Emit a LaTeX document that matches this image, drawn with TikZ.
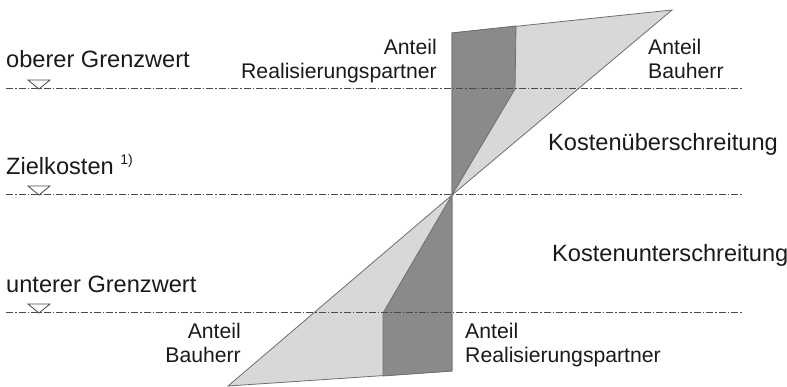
\documentclass[tikz,border=0pt]{standalone}
\usepackage{fontspec}
\setmainfont{Liberation Sans}
\begin{document}
\begin{tikzpicture}[x=1pt,y=-1pt,
  lightfill/.style={fill=lightshare,draw=edgegrey,line width=0.8pt,line join=miter},
  darkfill/.style={fill=darkshare,draw=edgegrey,line width=0.8pt,line join=miter},
  limitline/.style={draw=lineGrey,line width=1pt,dash pattern=on 7pt off 2pt on 1.5pt off 2pt},
  marker/.style={draw=lineGrey,fill=white,line width=0.8pt},
  biglabel/.style={font=\fontsize{23.6}{27}\selectfont,inner sep=0pt,text=textBlack},
  sharelabel/.style={font=\fontsize{21.2}{25}\selectfont,inner sep=0pt,text=textBlack}]
\definecolor{lightshare}{HTML}{D8D8D8}
\definecolor{darkshare}{HTML}{8A8A8A}
\definecolor{edgegrey}{HTML}{6E6E6E}
\definecolor{lineGrey}{HTML}{4A4A4A}
\definecolor{textBlack}{HTML}{1A1A1A}
\useasboundingbox (0,0) rectangle (787,387);

% corner points of the share areas
\coordinate (O)  at (452,195);
\coordinate (UL) at (452,33);
\coordinate (UM) at (516,26);
\coordinate (UK) at (515,89);
\coordinate (UR) at (672,10);
\coordinate (LL) at (228,386);
\coordinate (LK) at (383,313);
\coordinate (LM) at (383,376);
\coordinate (LR) at (452,371);

% upper part (cost overrun)
\path[lightfill] (UL) -- (UR) -- (O) -- cycle;
\path[darkfill] (UL) -- (UM) -- (UK) -- (O) -- cycle;
% lower part (cost underrun)
\path[lightfill] (O) -- (LL) -- (LR) -- cycle;
\path[darkfill] (O) -- (LK) -- (LM) -- (LR) -- cycle;

% limit lines with level markers
\foreach \name/\yy in {upper/89,target/195,lower/313}{
  \coordinate (\name A) at (6,\yy);
  \coordinate (\name B) at (743,\yy);
  \draw[limitline] (\name A) -- (\name B);
  \draw[marker] (28,\yy-9) -- (50,\yy-9) -- (39,\yy) -- cycle;
}

% level labels
\node[biglabel,anchor=base west] (upperText) at (6,68) {oberer Grenzwert};
\node[biglabel,anchor=base west] (targetText) at (6,175) {Zielkosten \raisebox{0.45em}{\fontsize{14}{16}\selectfont 1)}};
\node[biglabel,anchor=base west] (lowerText) at (6,293) {unterer Grenzwert};

% range labels
\node[biglabel,anchor=base west] (overrun) at (548,151) {Kostenüberschreitung};
\node[biglabel,anchor=base west] (underrun) at (552,262) {Kostenunterschreitung};

% share labels, upper part
\node[sharelabel,anchor=base east] (rpUpA) at (437,55) {Anteil};
\node[sharelabel,anchor=base east] (rpUpB) at (437,79) {Realisierungspartner};
\node[sharelabel,anchor=base west] (bhUpA) at (648,55) {Anteil};
\node[sharelabel,anchor=base west] (bhUpB) at (648,79) {Bauherr};

% share labels, lower part
\node[sharelabel,anchor=base east] (bhLoA) at (241,338) {Anteil};
\node[sharelabel,anchor=base east] (bhLoB) at (241,362) {Bauherr};
\node[sharelabel,anchor=base west] (rpLoA) at (465,338) {Anteil};
\node[sharelabel,anchor=base west] (rpLoB) at (465,362) {Realisierungspartner};
\end{tikzpicture}
\end{document}
